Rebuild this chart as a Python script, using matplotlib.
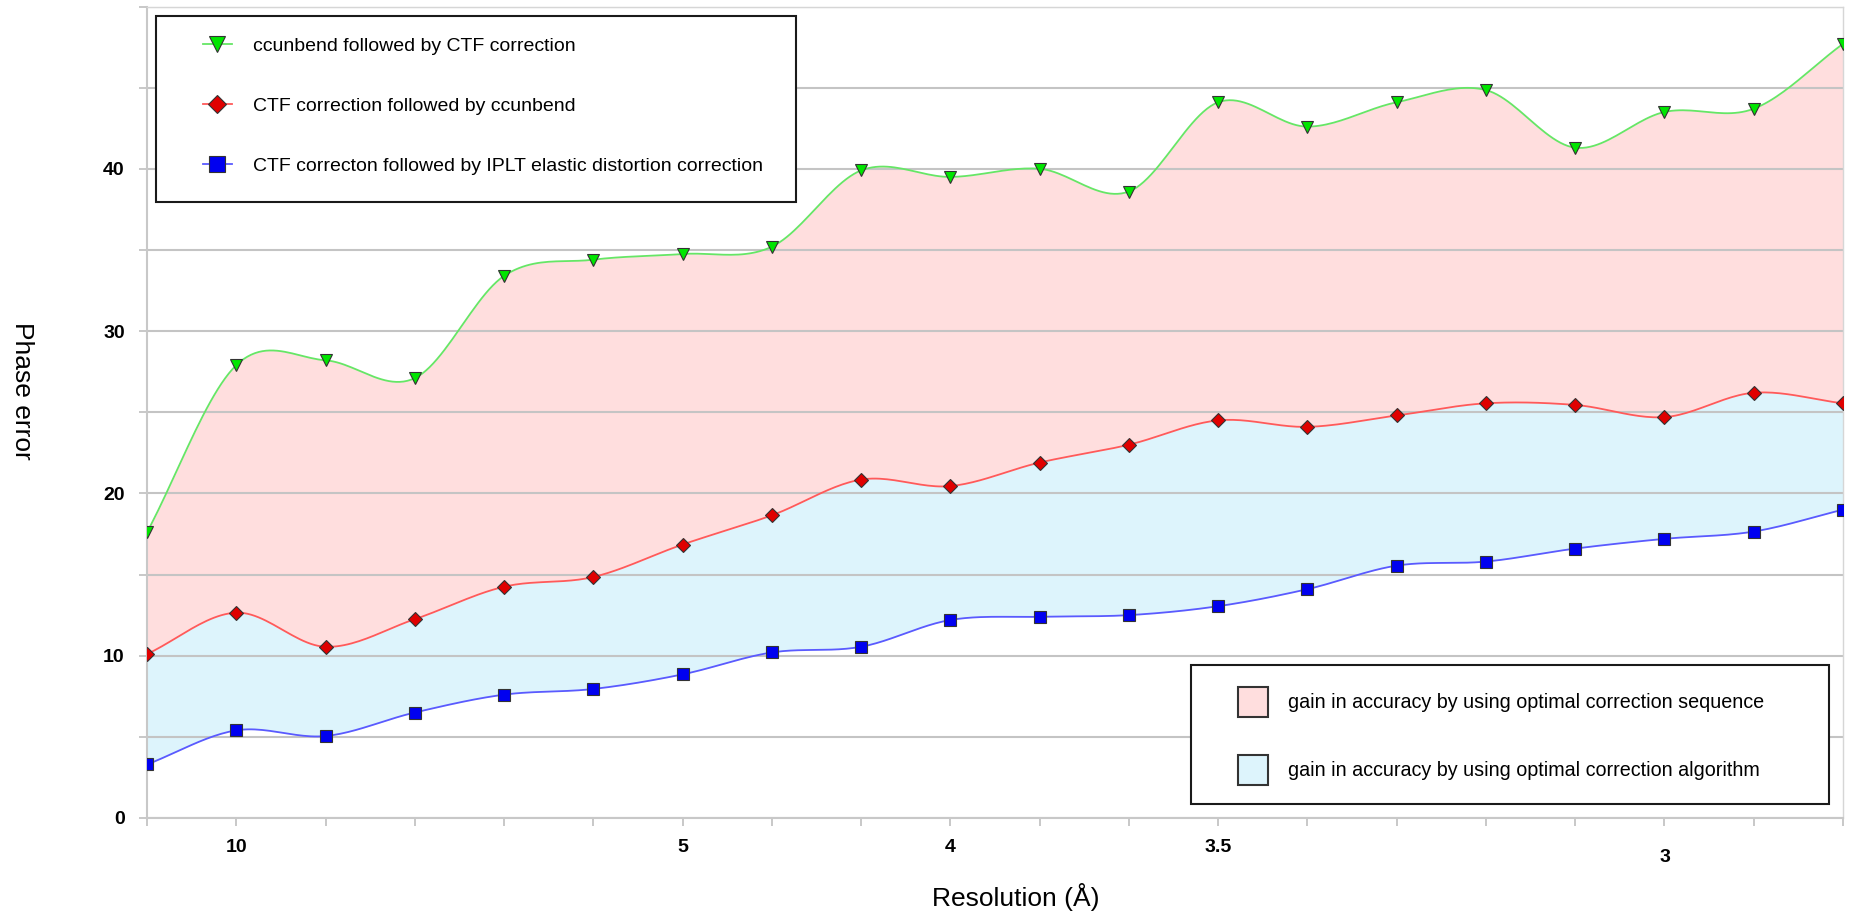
import numpy as np
import matplotlib
matplotlib.use("Agg")
import matplotlib.pyplot as plt
from matplotlib.lines import Line2D
from matplotlib.patches import Patch, Rectangle

plt.rcParams["font.family"] = ["Liberation Sans", "DejaVu Sans"]

# Resolution shells (evenly spaced along the axis); only some carry a label
shell_labels = ["", "10", "", "", "", "", "5", "", "", "4",
                "", "", "3.5", "", "", "", "", "3", "", ""]

# Phase error per resolution shell
ccunbend_then_ctf = [17.6, 27.9, 28.2, 27.1, 33.4, 34.4, 34.75, 35.2, 39.9, 39.5,
                     40.0, 38.6, 44.1, 42.6, 44.1, 44.85, 41.3, 43.5, 43.7, 47.7]
ctf_then_ccunbend = [10.1, 12.65, 10.55, 12.25, 14.25, 14.85, 16.85, 18.65, 20.85, 20.45,
                     21.9, 23.0, 24.5, 24.1, 24.8, 25.55, 25.45, 24.7, 26.2, 25.55]
ctf_then_iplt = [3.3, 5.4, 5.05, 6.5, 7.6, 7.95, 8.85, 10.2, 10.55, 12.2,
                 12.4, 12.5, 13.05, 14.1, 15.55, 15.8, 16.6, 17.2, 17.65, 19.0]

series_labels = ["ccunbend followed by CTF correction",
                 "CTF correction followed by ccunbend",
                 "CTF correcton followed by IPLT elastic distortion correction"]
area_labels = ["gain in accuracy by using optimal correction sequence",
               "gain in accuracy by using optimal correction algorithm"]


def smooth(xs, ys, steps=24):
    """Catmull-Rom spline through the points (spreadsheet-style smoothed line)."""
    xs = np.asarray(xs, float)
    ys = np.asarray(ys, float)
    n = len(xs)
    mx = np.empty(n)
    my = np.empty(n)
    mx[1:-1] = (xs[2:] - xs[:-2]) / 2
    my[1:-1] = (ys[2:] - ys[:-2]) / 2
    mx[0], my[0] = xs[1] - xs[0], ys[1] - ys[0]
    mx[-1], my[-1] = xs[-1] - xs[-2], ys[-1] - ys[-2]
    t = np.linspace(0, 1, steps, endpoint=False)
    h00 = 2 * t**3 - 3 * t**2 + 1
    h10 = t**3 - 2 * t**2 + t
    h01 = -2 * t**3 + 3 * t**2
    h11 = t**3 - t**2
    ox, oy = [], []
    for i in range(n - 1):
        ox.append(h00 * xs[i] + h10 * mx[i] + h01 * xs[i + 1] + h11 * mx[i + 1])
        oy.append(h00 * ys[i] + h10 * my[i] + h01 * ys[i + 1] + h11 * my[i + 1])
    ox.append([xs[-1]])
    oy.append([ys[-1]])
    return np.concatenate(ox), np.concatenate(oy)


W, H = 1854, 915
fig = plt.figure(figsize=(W / 100, H / 100), dpi=100)
ax = fig.add_axes([147 / W, 1 - 818 / H, (1843 - 147) / W, (818 - 6.5) / H])

x = np.arange(len(shell_labels))
gx, gy = smooth(x, ccunbend_then_ctf)
rx, ry = smooth(x, ctf_then_ccunbend)
bx, by = smooth(x, ctf_then_iplt)

pink = "#FFDEDE"
sky = "#DDF4FC"
ax.fill_between(gx, gy, ry, color=pink, lw=0, zorder=1)
ax.fill_between(rx, ry, by, color=sky, lw=0, zorder=1)

ax.plot(gx, gy, color="#66E666", lw=1.3, zorder=2)
ax.plot(rx, ry, color="#FF5A5A", lw=1.3, zorder=2)
ax.plot(bx, by, color="#5A5AFF", lw=1.3, zorder=2)

ax.plot(x, ccunbend_then_ctf, ls="none", marker="v", ms=9, mfc="#00E600",
        mec="#333333", mew=0.8, zorder=3)
ax.plot(x, ctf_then_ccunbend, ls="none", marker="D", ms=7.5, mfc="#E00000",
        mec="#333333", mew=0.8, zorder=3)
ax.plot(x, ctf_then_iplt, ls="none", marker="s", ms=8.5, mfc="#0000F0",
        mec="#333333", mew=0.8, zorder=3)

ax.set_xlim(0, len(x) - 1)
ax.set_ylim(0, 50)
ax.set_axisbelow("line")

ax.set_xticks(x)
ax.set_xticklabels(shell_labels, fontsize=14, fontweight="bold")
ax.set_yticks(np.arange(0, 51, 5))
ax.set_yticklabels([str(v) if v % 10 == 0 and v < 50 else "" for v in range(0, 51, 5)],
                   fontsize=14, fontweight="bold")
ax.tick_params(axis="both", direction="out", length=6, width=1.3, color="#C4C4C4")
ax.tick_params(axis="x", pad=9)
ax.tick_params(axis="y", pad=10)
ax.xaxis.get_major_ticks()[17].set_pad(16)

ax.yaxis.grid(True, color="#C4C4C4", lw=1.5)
for side in ("left", "bottom"):
    ax.spines[side].set_color("#C8C8C8")
    ax.spines[side].set_linewidth(1.5)
for side in ("top", "right"):
    ax.spines[side].set_color("#D6D6D6")
    ax.spines[side].set_linewidth(1.0)

fig.text(22 / W, 1 - 391 / H, "Phase error", rotation=-90, ha="center", va="center",
         fontsize=19)
fig.text(1016 / W, 1 - 897 / H, "Resolution (Å)", ha="center", va="center", fontsize=19)

# Legend frames
for (x0, y0, x1, y1) in [(155.6, 15.7, 796, 201.7), (1190.6, 665, 1829, 804)]:
    fig.add_artist(Rectangle((x0 / W, 1 - y1 / H), (x1 - x0) / W, (y1 - y0) / H,
                             transform=fig.transFigure, facecolor="white",
                             edgecolor="#1A1A1A", lw=1.5, zorder=3))

series_handles = [
    Line2D([], [], color="#66E666", lw=1.3, marker="v", ms=12, mfc="#00E600",
           mec="#333333", mew=0.8),
    Line2D([], [], color="#FF5A5A", lw=1.3, marker="D", ms=9.5, mfc="#E00000",
           mec="#333333", mew=0.8),
    Line2D([], [], color="#5A5AFF", lw=1.3, marker="s", ms=11, mfc="#0000F0",
           mec="#333333", mew=0.8),
]
leg1 = fig.legend(series_handles, series_labels, loc="upper left",
                  bbox_to_anchor=(202.5 / W, 1 - 37.5 / H), frameon=False,
                  borderpad=0, borderaxespad=0, fontsize=14, handlelength=1.52,
                  handletextpad=1.1, labelspacing=2.17)
leg1.set_zorder(4)

area_handles = [Patch(facecolor=pink, edgecolor="#333333", lw=1.5),
                Patch(facecolor=sky, edgecolor="#333333", lw=1.5)]
leg2 = fig.legend(area_handles, area_labels, loc="upper left",
                  bbox_to_anchor=(1237.6 / W, 1 - 687 / H), frameon=False,
                  borderpad=0, borderaxespad=0, fontsize=14.2, handlelength=1.52,
                  handleheight=1.95, handletextpad=1.05, labelspacing=1.93)
leg2.set_zorder(4)

fig.savefig("out.png", dpi=100)
